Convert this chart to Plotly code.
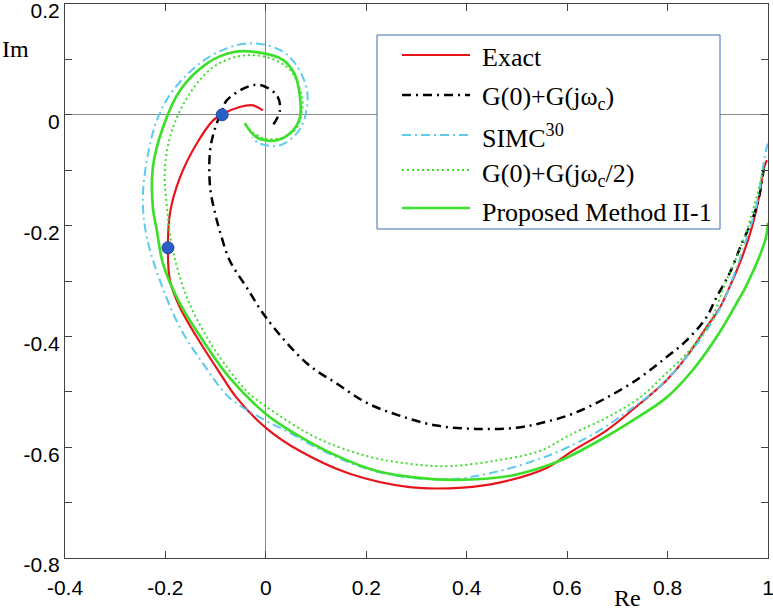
import plotly.graph_objects as go

# ---------------- data ----------------
exact_re = [0.998, 0.992, 0.982, 0.968, 0.948, 0.923, 0.903, 0.877, 0.837, 0.797, 0.744, 0.678,
            0.610, 0.560, 0.465, 0.392, 0.286, 0.167, 0.068, 0.0, -0.058, -0.091, -0.137, -0.171,
            -0.191, -0.195, -0.191, -0.171, -0.137, -0.105, -0.087, -0.052, -0.026, -0.006]
exact_im = [-0.082, -0.095, -0.149, -0.203, -0.258, -0.312, -0.350, -0.384, -0.438, -0.480, -0.522, -0.570,
            -0.607, -0.637, -0.664, -0.673, -0.672, -0.648, -0.607, -0.565, -0.511, -0.467, -0.402, -0.348,
            -0.299, -0.245, -0.178, -0.113, -0.051, -0.010, 0.001, 0.014, 0.017, 0.008]

gwc_re = [0.992, 0.982, 0.968, 0.948, 0.923, 0.897, 0.877, 0.837, 0.797, 0.744, 0.678, 0.610, 0.550,
          0.499, 0.419, 0.340, 0.266, 0.201, 0.141, 0.082, 0.002, -0.038, -0.072, -0.091, -0.101,
          -0.111, -0.111, -0.101, -0.087, -0.078, -0.038, -0.012, 0.022, 0.028, 0.014]
gwc_im = [-0.095, -0.149, -0.191, -0.232, -0.287, -0.330, -0.366, -0.408, -0.438, -0.475, -0.511, -0.540, -0.556,
          -0.565, -0.567, -0.561, -0.543, -0.520, -0.485, -0.449, -0.368, -0.312, -0.263, -0.212, -0.178,
          -0.131, -0.064, -0.024, 0.008, 0.026, 0.050, 0.054, 0.035, 0.008, -0.019]

simc_re = [1.0, 0.996, 0.976, 0.956, 0.933, 0.909, 0.877, 0.837, 0.783, 0.730, 0.664, 0.585, 0.545,
           0.465, 0.380, 0.286, 0.201, 0.101, 0.048, 0.0, -0.072, -0.125, -0.171, -0.211, -0.237,
           -0.245, -0.237, -0.217, -0.185, -0.131, -0.078, -0.026, 0.028, 0.058, 0.082, 0.078,
           0.062, 0.028, -0.012, -0.028]
simc_im = [-0.052, -0.064, -0.167, -0.227, -0.287, -0.341, -0.390, -0.438, -0.492, -0.529, -0.570, -0.607, -0.621,
           -0.643, -0.657, -0.655, -0.639, -0.601, -0.574, -0.552, -0.511, -0.449, -0.384, -0.299, -0.221,
           -0.155, -0.082, -0.010, 0.044, 0.093, 0.120, 0.129, 0.117, 0.093, 0.044, -0.004,
           -0.033, -0.055, -0.052, -0.041]

ghalf_re = [0.992, 0.986, 0.966, 0.943, 0.917, 0.883, 0.843, 0.797, 0.744, 0.678, 0.610, 0.545, 0.465,
            0.366, 0.286, 0.201, 0.101, 0.022, -0.032, -0.072, -0.117, -0.157, -0.185, -0.197, -0.201,
            -0.185, -0.151, -0.105, -0.052, 0.002, 0.048, 0.072, 0.072, 0.062, 0.034, -0.006, -0.038]
ghalf_im = [-0.095, -0.118, -0.185, -0.245, -0.299, -0.377, -0.426, -0.467, -0.511, -0.547, -0.576, -0.607, -0.623,
            -0.634, -0.630, -0.616, -0.583, -0.540, -0.504, -0.462, -0.402, -0.330, -0.245, -0.167, -0.095,
            -0.023, 0.039, 0.086, 0.106, 0.104, 0.081, 0.032, 0.008, -0.023, -0.041, -0.042, -0.023]

prop_re = [1.0, 0.996, 0.982, 0.968, 0.952, 0.937, 0.897, 0.849, 0.797, 0.730, 0.664, 0.599, 0.555,
           0.485, 0.380, 0.300, 0.221, 0.133, 0.048, 0.0, -0.072, -0.125, -0.171, -0.205, -0.217,
           -0.225, -0.225, -0.205, -0.171, -0.117, -0.066, -0.018, 0.034, 0.058, 0.068, 0.068,
           0.054, 0.022, -0.018, -0.042]
prop_im = [-0.195, -0.221, -0.258, -0.287, -0.317, -0.341, -0.402, -0.462, -0.511, -0.552, -0.588, -0.619, -0.635,
           -0.652, -0.659, -0.655, -0.643, -0.612, -0.570, -0.540, -0.475, -0.408, -0.341, -0.268, -0.209,
           -0.167, -0.095, -0.023, 0.044, 0.093, 0.113, 0.113, 0.099, 0.072, 0.032, -0.004,
           -0.028, -0.046, -0.041, -0.015]

dots_re = [-0.087, -0.195]
dots_im = [0.0, -0.240]

x_ticks = [-0.4, -0.2, 0, 0.2, 0.4, 0.6, 0.8, 1.0]
x_labels = ["-0.4", "-0.2", "0", "0.2", "0.4", "0.6", "0.8", "1"]
y_ticks = [-0.8, -0.6, -0.4, -0.2, 0, 0.2]
y_labels = ["-0.8", "-0.6", "-0.4", "-0.2", "0", "0.2"]
y_minor_ticks = [-0.7, -0.5, -0.3, -0.1, 0.1]

legend_names = ["Exact", "G(0)+G(jω<sub>c</sub>)", "SIMC<sup>30</sup>",
                "G(0)+G(jω<sub>c</sub>/2)", "Proposed Method II-1"]

# ---------------- styles ----------------
RED = "#e8141c"
BLACK = "#000000"
CYAN = "#5ccbec"
GREEN = "#3ddf2c"
styles = [
    dict(color=RED, width=2.2, dash="solid"),
    dict(color=BLACK, width=2.5, dash="9px,5px,2px,5px"),
    dict(color=CYAN, width=2, dash="9px,4px,2px,4px"),
    dict(color=GREEN, width=2, dash="2px,3px"),
    dict(color=GREEN, width=2.7, dash="solid"),
]
series = [(exact_re, exact_im), (gwc_re, gwc_im), (simc_re, simc_im),
          (ghalf_re, ghalf_im), (prop_re, prop_im)]

fig = go.Figure()
for (xs, ys), st, name in zip(series, styles, legend_names):
    fig.add_trace(go.Scatter(x=xs, y=ys, mode="lines", line=st, name=name,
                             line_shape="spline", showlegend=False))
fig.add_trace(go.Scatter(x=dots_re, y=dots_im, mode="markers", showlegend=False,
                         marker=dict(size=12, color="#2b5fc6",
                                     line=dict(color="#1e48a6", width=1))))

# ---------------- legend drawn in paper coordinates ----------------
L, R, T, B = 65, 768, 4, 558
W, H = R - L, B - T


def px(x):
    return (x - L) / W


def py(y):
    return (B - y) / H


SERIF = "Liberation Serif, Times New Roman, serif"
shapes = [dict(type="rect", xref="paper", yref="paper",
               x0=px(377), x1=px(720), y0=py(229), y1=py(35),
               line=dict(color="#3d69b0", width=1), fillcolor="white", layer="above")]
annotations = []
sample_y = [55, 95, 135, 170, 208]
text_y = [57, 98, 136, 175, 212]
for i, st in enumerate(styles):
    shapes.append(dict(type="line", xref="paper", yref="paper",
                       x0=px(402), x1=px(470), y0=py(sample_y[i]), y1=py(sample_y[i]),
                       line=dict(color=st["color"], width=st["width"], dash=st["dash"]),
                       layer="above"))
    annotations.append(dict(xref="paper", yref="paper", x=px(480), y=py(text_y[i]),
                            xanchor="left", yanchor="middle", showarrow=False,
                            text=legend_names[i],
                            font=dict(family=SERIF, size=26, color="black")))

annotations.append(dict(xref="paper", yref="paper", x=px(15), y=py(49), text="Im",
                        showarrow=False, xanchor="center", yanchor="middle",
                        font=dict(family=SERIF, size=24, color="black")))
annotations.append(dict(xref="paper", yref="paper", x=px(627), y=py(598), text="Re",
                        showarrow=False, xanchor="center", yanchor="middle",
                        font=dict(family=SERIF, size=24, color="black")))

axis_common = dict(showline=True, mirror="ticks", linecolor="#444444", linewidth=1,
                   ticks="inside", ticklen=7, tickcolor="#444444", tickwidth=1,
                   showgrid=False, zeroline=True, zerolinecolor="#8a8a8a", zerolinewidth=1,
                   automargin=False, ticklabeloverflow="allow",
                   tickfont=dict(family="Liberation Sans, Arial, sans-serif", size=21, color="black"))

fig.update_layout(
    template="none",
    width=773, height=614,
    margin=dict(l=L, r=773 - R, t=T, b=614 - B, autoexpand=False),
    paper_bgcolor="white", plot_bgcolor="white",
    showlegend=False,
    xaxis=dict(range=[-0.4, 1.0], tickvals=x_ticks, ticktext=x_labels,
               ticklabelstandoff=11, **axis_common),
    yaxis=dict(range=[-0.8, 0.2], tickvals=y_ticks, ticktext=y_labels,
               ticklabelshift=7,
               minor=dict(tickmode="array", tickvals=y_minor_ticks, ticks="inside",
                          ticklen=7, tickcolor="#444444", tickwidth=1, showgrid=False),
               **axis_common),
    shapes=shapes,
    annotations=annotations,
)

fig.write_html("out.html", config={"displayModeBar": False},
               post_script="document.body.style.margin='0';document.body.style.overflow='hidden';")
